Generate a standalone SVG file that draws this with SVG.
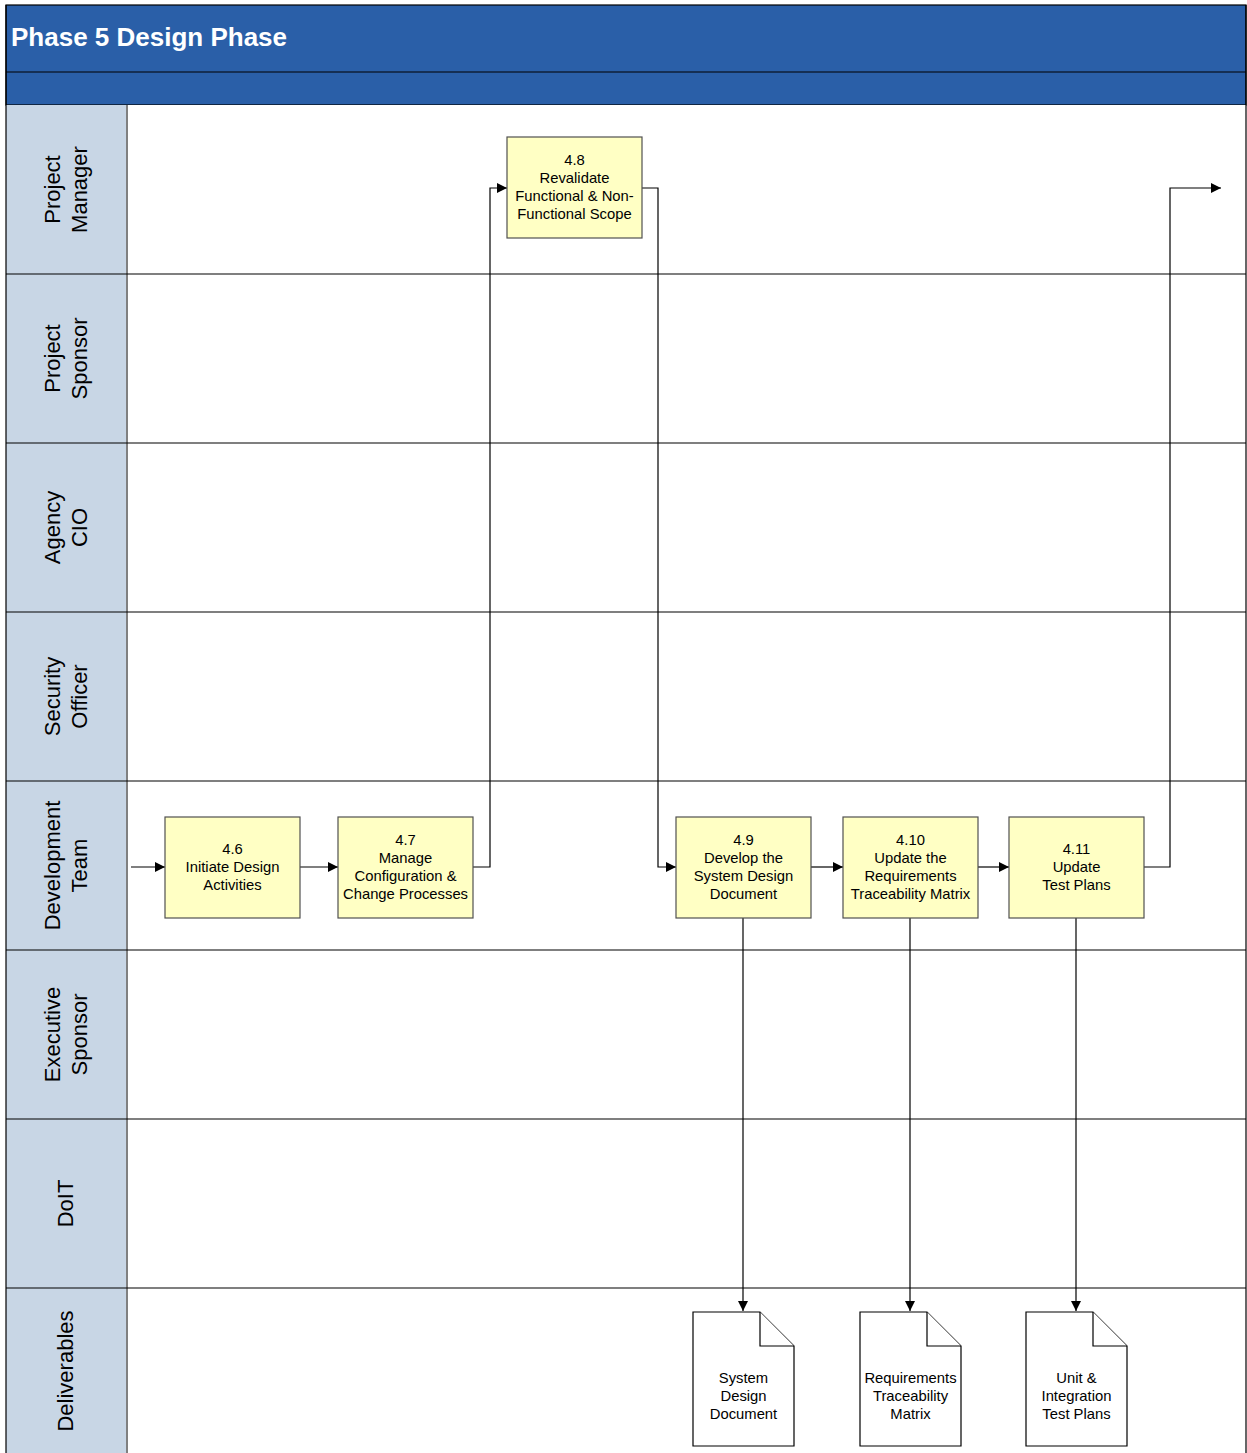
<svg xmlns="http://www.w3.org/2000/svg" width="1247" height="1453" viewBox="0 0 1247 1453">
<style>
.lbl{font-family:"Liberation Sans",Arial,sans-serif;font-size:22px;fill:#000;text-anchor:middle}
.nt{font-family:"Liberation Sans",Arial,sans-serif;font-size:14.8px;fill:#000;text-anchor:middle}
.box{fill:#ffffc4;stroke:#505050;stroke-width:1.2}
.doc{fill:#fff;stroke:#000;stroke-width:1.2}
.sep{stroke:#000;stroke-width:1.2}
.cn{fill:none;stroke:#000;stroke-width:1.2}
</style>
<defs>
<marker id="ah" viewBox="0 0 10 10" refX="10" refY="5" markerWidth="10" markerHeight="10" markerUnits="userSpaceOnUse" orient="auto">
<path d="M0,0 L10,5 L0,10 z" fill="#000"/>
</marker>
</defs>
<rect x="0" y="0" width="1247" height="1453" fill="#fff"/>
<g id="header">
<rect x="6" y="5" width="1240" height="100" fill="#2a5fa8" stroke="#000" stroke-width="1.2"/>
<line x1="6" y1="72" x2="1246" y2="72" class="sep"/>
<text x="11" y="46" font-family="Liberation Sans,Arial,sans-serif" font-size="26" font-weight="bold" fill="#fff">Phase 5 Design Phase</text>
</g>
<g id="lanes">
<rect x="6" y="105" width="121" height="1350" fill="#c8d6e5"/>
<rect x="127" y="105" width="1119" height="1350" fill="#fff"/>
<line x1="127" y1="105" x2="127" y2="1453" stroke="#808080" stroke-width="2"/>
<line x1="6" y1="5" x2="6" y2="1453" class="sep"/>
<line x1="1246" y1="5" x2="1246" y2="1453" class="sep"/>
<line x1="6" y1="274" x2="1246" y2="274" class="sep"/>
<line x1="6" y1="443" x2="1246" y2="443" class="sep"/>
<line x1="6" y1="612" x2="1246" y2="612" class="sep"/>
<line x1="6" y1="781" x2="1246" y2="781" class="sep"/>
<line x1="6" y1="950" x2="1246" y2="950" class="sep"/>
<line x1="6" y1="1119" x2="1246" y2="1119" class="sep"/>
<line x1="6" y1="1288" x2="1246" y2="1288" class="sep"/>
<text class="lbl" transform="translate(60,189.5) rotate(-90)">Project</text>
<text class="lbl" transform="translate(87,189.5) rotate(-90)">Manager</text>
<text class="lbl" transform="translate(60,358.5) rotate(-90)">Project</text>
<text class="lbl" transform="translate(87,358.5) rotate(-90)">Sponsor</text>
<text class="lbl" transform="translate(60,527.5) rotate(-90)">Agency</text>
<text class="lbl" transform="translate(87,527.5) rotate(-90)">CIO</text>
<text class="lbl" transform="translate(60,696.5) rotate(-90)">Security</text>
<text class="lbl" transform="translate(87,696.5) rotate(-90)">Officer</text>
<text class="lbl" transform="translate(60,865.5) rotate(-90)">Development</text>
<text class="lbl" transform="translate(87,865.5) rotate(-90)">Team</text>
<text class="lbl" transform="translate(60,1034.5) rotate(-90)">Executive</text>
<text class="lbl" transform="translate(87,1034.5) rotate(-90)">Sponsor</text>
<text class="lbl" transform="translate(73,1203.5) rotate(-90)">DoIT</text>
<text class="lbl" transform="translate(73,1371) rotate(-90)">Deliverables</text>
</g>
<g id="connectors">
<path class="cn" d="M131,867 H165" marker-end="url(#ah)"/>
<path class="cn" d="M300,867 H338" marker-end="url(#ah)"/>
<path class="cn" d="M473,867 H490 V188 H507" marker-end="url(#ah)"/>
<path class="cn" d="M642,188 H658 V867 H676" marker-end="url(#ah)"/>
<path class="cn" d="M811,867 H843" marker-end="url(#ah)"/>
<path class="cn" d="M978,867 H1009" marker-end="url(#ah)"/>
<path class="cn" d="M1144,867 H1170 V188 H1221" marker-end="url(#ah)"/>
<path class="cn" d="M743,918 V1311" marker-end="url(#ah)"/>
<path class="cn" d="M910,918 V1311" marker-end="url(#ah)"/>
<path class="cn" d="M1076,918 V1311" marker-end="url(#ah)"/>
</g>
<g id="n46">
<rect class="box" x="165" y="817" width="135" height="101"/>
<text class="nt" x="232.5" y="854">4.6</text>
<text class="nt" x="232.5" y="872">Initiate Design</text>
<text class="nt" x="232.5" y="890">Activities</text>
</g>
<g id="n47">
<rect class="box" x="338" y="817" width="135" height="101"/>
<text class="nt" x="405.5" y="845">4.7</text>
<text class="nt" x="405.5" y="863">Manage</text>
<text class="nt" x="405.5" y="881">Configuration &amp;</text>
<text class="nt" x="405.5" y="899">Change Processes</text>
</g>
<g id="n48">
<rect class="box" x="507" y="137" width="135" height="101"/>
<text class="nt" x="574.5" y="165">4.8</text>
<text class="nt" x="574.5" y="183">Revalidate</text>
<text class="nt" x="574.5" y="201">Functional &amp; Non-</text>
<text class="nt" x="574.5" y="219">Functional Scope</text>
</g>
<g id="n49">
<rect class="box" x="676" y="817" width="135" height="101"/>
<text class="nt" x="743.5" y="845">4.9</text>
<text class="nt" x="743.5" y="863">Develop the</text>
<text class="nt" x="743.5" y="881">System Design</text>
<text class="nt" x="743.5" y="899">Document</text>
</g>
<g id="n410">
<rect class="box" x="843" y="817" width="135" height="101"/>
<text class="nt" x="910.5" y="845">4.10</text>
<text class="nt" x="910.5" y="863">Update the</text>
<text class="nt" x="910.5" y="881">Requirements</text>
<text class="nt" x="910.5" y="899">Traceability Matrix</text>
</g>
<g id="n411">
<rect class="box" x="1009" y="817" width="135" height="101"/>
<text class="nt" x="1076.5" y="854">4.11</text>
<text class="nt" x="1076.5" y="872">Update</text>
<text class="nt" x="1076.5" y="890">Test Plans</text>
</g>
<g id="d1">
<path class="doc" d="M693,1312 H760 L794,1346 V1446 H693 Z"/>
<path class="doc" d="M760,1312 V1346 H794" fill="none"/>
<text class="nt" x="743.5" y="1383">System</text>
<text class="nt" x="743.5" y="1401">Design</text>
<text class="nt" x="743.5" y="1419">Document</text>
</g>
<g id="d2">
<path class="doc" d="M860,1312 H927 L961,1346 V1446 H860 Z"/>
<path class="doc" d="M927,1312 V1346 H961" fill="none"/>
<text class="nt" x="910.5" y="1383">Requirements</text>
<text class="nt" x="910.5" y="1401">Traceability</text>
<text class="nt" x="910.5" y="1419">Matrix</text>
</g>
<g id="d3">
<path class="doc" d="M1026,1312 H1093 L1127,1346 V1446 H1026 Z"/>
<path class="doc" d="M1093,1312 V1346 H1127" fill="none"/>
<text class="nt" x="1076.5" y="1383">Unit &amp;</text>
<text class="nt" x="1076.5" y="1401">Integration</text>
<text class="nt" x="1076.5" y="1419">Test Plans</text>
</g>
</svg>
